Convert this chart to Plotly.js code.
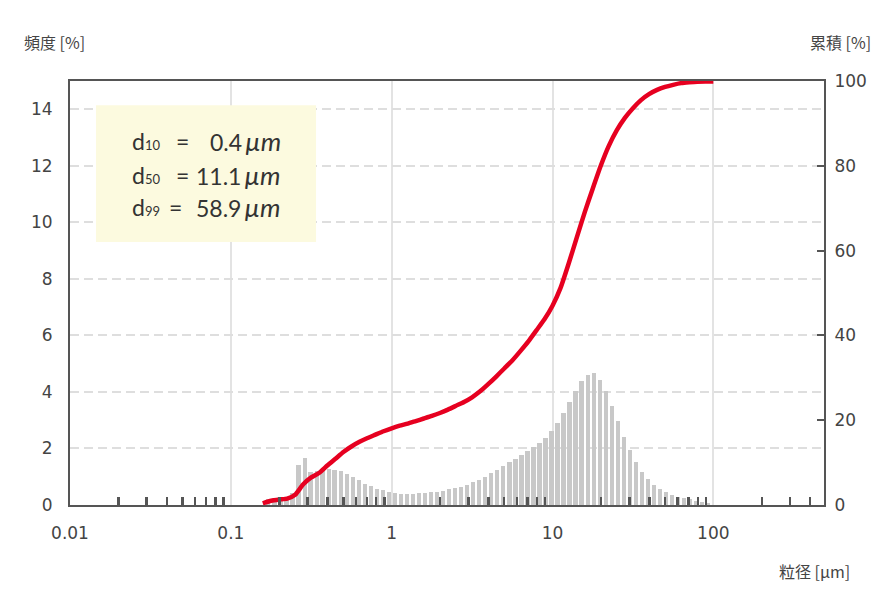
<!DOCTYPE html>
<html>
<head>
<meta charset="utf-8">
<script src="https://cdn.plot.ly/plotly-3.0.1.min.js"></script>
<style>
  html, body { margin: 0; padding: 0; background: #fff; }
  #plot { width: 896px; height: 613px; }
</style>
</head>
<body>
<div id="plot"></div>
<script>
// bin centres [µm] of the frequency histogram
const sizes = [
  0.171, 0.187, 0.204, 0.222, 0.242, 0.264, 0.288, 0.313, 0.342, 0.372,
  0.406, 0.442, 0.482, 0.526, 0.573, 0.625, 0.681, 0.742, 0.809, 0.882,
  0.962, 1.048, 1.143, 1.246, 1.358, 1.480, 1.613, 1.759, 1.917, 2.089,
  2.278, 2.483, 2.707, 2.950, 3.216, 3.505, 3.821, 4.165, 4.540, 4.949,
  5.395, 5.880, 6.411, 6.987, 7.617, 8.303, 9.051, 9.865, 10.75, 11.72,
  12.78, 13.93, 15.18, 16.55, 18.04, 19.67, 21.44, 23.37, 25.48, 27.77,
  30.27, 32.99, 35.97, 39.20, 42.74, 46.58, 50.78, 55.35, 60.34, 65.77,
  71.70, 78.15, 85.19, 92.86
];
// frequency [%]
const freq = [
  0.22, 0.25, 0.26, 0.25, 0.42, 1.40, 1.66, 1.15, 1.20, 1.25,
  1.26, 1.25, 1.19, 1.09, 1.00, 0.88, 0.76, 0.67, 0.58, 0.52,
  0.46, 0.43, 0.40, 0.40, 0.40, 0.42, 0.43, 0.45, 0.47, 0.51,
  0.55, 0.59, 0.65, 0.71, 0.81, 0.89, 1.00, 1.13, 1.25, 1.38,
  1.52, 1.64, 1.78, 1.90, 2.04, 2.18, 2.38, 2.61, 2.91, 3.25,
  3.63, 4.03, 4.37, 4.59, 4.66, 4.41, 4.03, 3.50, 2.97, 2.41,
  1.93, 1.51, 1.17, 0.93, 0.72, 0.57, 0.45, 0.36, 0.28, 0.25,
  0.20, 0.13, 0.10, 0.07
];
// cumulative curve [%]
const cumSize = [
  0.158, 0.178, 0.200, 0.224, 0.251, 0.282, 0.316, 0.355, 0.398, 0.447,
  0.501, 0.562, 0.631, 0.708, 0.794, 0.891, 1.000, 1.122, 1.259, 1.413,
  1.585, 1.778, 1.995, 2.239, 2.512, 2.818, 3.162, 3.548, 3.981, 4.467,
  5.012, 5.623, 6.310, 7.079, 7.943, 8.913, 10.00, 11.22, 12.59, 14.13,
  15.85, 17.78, 19.95, 22.39, 25.12, 28.18, 31.62, 35.48, 39.81, 44.67,
  50.12, 56.23, 63.10, 70.79, 79.43, 89.13, 100.0
];
const cumValue = [
  0.4, 1.0, 1.3, 1.5, 2.4, 4.9, 6.5, 7.6, 9.3, 10.9,
  12.5, 13.8, 14.9, 15.8, 16.6, 17.4, 18.1, 18.7, 19.2, 19.8,
  20.4, 21.0, 21.7, 22.5, 23.4, 24.3, 25.4, 26.8, 28.5, 30.3,
  32.2, 34.1, 36.3, 38.6, 41.2, 43.8, 47.0, 51.2, 56.9, 63.0,
  69.0, 74.6, 80.0, 84.7, 88.4, 91.3, 93.6, 95.5, 96.9, 97.9,
  98.6, 99.1, 99.5, 99.7, 99.85, 99.9, 99.9
];

const xTickVals = [0.01, 0.1, 1, 10, 100];
const xTickText = ['0.01', '0.1', '1', '10', '100'];
const xMinorVals = [
  0.02, 0.03, 0.04, 0.05, 0.06, 0.07, 0.08, 0.09,
  0.2, 0.3, 0.4, 0.5, 0.6, 0.7, 0.8, 0.9,
  2, 3, 4, 5, 6, 7, 8, 9,
  20, 30, 40, 50, 60, 70, 80, 90,
  200, 300, 400
];
const yTickVals = [0, 2, 4, 6, 8, 10, 12, 14];
const y2TickVals = [0, 20, 40, 60, 80, 100];

const stats = [
  { sub: '10', value: '0.4' },
  { sub: '50', value: '11.1' },
  { sub: '99', value: '58.9' }
];

const FONT = 'Lato, "Noto Sans CJK JP", sans-serif';
const TICKFONT = '"DejaVu Sans", Lato, sans-serif';
const CJK = '"Noto Sans CJK JP", Lato, sans-serif';

// bars on a log axis: width given in data units, proportional to the centre
const barWidths = sizes.map(s => s * 0.0615);

const traces = [
  {
    type: 'bar',
    x: sizes,
    y: freq,
    width: barWidths,
    marker: { color: '#c8c8c8', line: { width: 0 } },
    hoverinfo: 'skip'
  },
  {
    type: 'scatter',
    mode: 'lines',
    x: cumSize,
    y: cumValue,
    yaxis: 'y2',
    line: { color: '#e60020', width: 4.5, shape: 'spline', smoothing: 0.5 },
    hoverinfo: 'skip'
  }
];

const lineY = [0.858, 0.778, 0.702];
const eqX = [0.1492, 0.1492, 0.1399];
const annotations = [];
stats.forEach((s, i) => {
  annotations.push({
    xref: 'paper', yref: 'paper', x: 0.0796, y: lineY[i],
    xanchor: 'left', yanchor: 'middle', showarrow: false,
    text: "d<span style='font-size:13px'>" + s.sub + '</span>',
    font: { family: FONT, size: 23, color: '#333' }
  });
  annotations.push({
    xref: 'paper', yref: 'paper', x: eqX[i], y: lineY[i],
    xanchor: 'center', yanchor: 'middle', showarrow: false,
    text: '=',
    font: { family: FONT, size: 23, color: '#333' }
  });
  annotations.push({
    xref: 'paper', yref: 'paper', x: 0.2825, y: lineY[i],
    xanchor: 'right', yanchor: 'middle', showarrow: false,
    text: s.value + "\u2009<i><span style='font-size:26px'>µm</span></i>",
    font: { family: FONT, size: 23, color: '#333' }
  });
});
annotations.push(
  {
    xref: 'paper', yref: 'paper', x: -0.0637, y: 1.091,
    xanchor: 'left', yanchor: 'middle', showarrow: false,
    text: '頻度 [%]', font: { family: CJK, size: 16, color: '#444' }
  },
  {
    xref: 'paper', yref: 'paper', x: 1.065, y: 1.091,
    xanchor: 'right', yanchor: 'middle', showarrow: false,
    text: '累積 [%]', font: { family: CJK, size: 16, color: '#444' }
  },
  {
    xref: 'paper', yref: 'paper', x: 1.037, y: -0.156,
    xanchor: 'right', yanchor: 'middle', showarrow: false,
    text: '粒径 [µm]', font: { family: CJK, size: 16, color: '#444' }
  }
);

const layout = {
  width: 896,
  height: 613,
  margin: { l: 70, r: 72, t: 81, b: 108 },
  paper_bgcolor: '#fff',
  plot_bgcolor: '#fff',
  showlegend: false,
  bargap: 0,
  font: { family: FONT, size: 18, color: '#444' },
  xaxis: {
    type: 'log',
    range: [-2, 2.688],
    tickmode: 'array',
    tickvals: xTickVals,
    ticktext: xTickText,
    ticks: '',
    showgrid: true,
    gridcolor: '#e3e3e3',
    gridwidth: 2,
    showline: true,
    linecolor: '#555',
    linewidth: 2,
    mirror: true,
    zeroline: false,
    ticklabelstandoff: 12,
    tickfont: { family: TICKFONT, size: 17, color: '#444' },
    minor: {
      tickmode: 'array',
      tickvals: xMinorVals,
      ticks: 'inside',
      ticklen: 8,
      tickwidth: 2.5,
      tickcolor: '#555',
      showgrid: false
    }
  },
  yaxis: {
    range: [0, 15],
    tickmode: 'array',
    tickvals: yTickVals,
    ticks: '',
    showgrid: true,
    gridcolor: '#dedede',
    gridwidth: 2,
    griddash: '9px,5px',
    showline: true,
    linecolor: '#555',
    linewidth: 2,
    mirror: true,
    zeroline: false,
    ticklabelstandoff: 12,
    tickfont: { family: TICKFONT, size: 17, color: '#444' }
  },
  yaxis2: {
    overlaying: 'y',
    side: 'right',
    range: [0, 100],
    tickmode: 'array',
    tickvals: y2TickVals,
    ticks: 'inside',
    ticklen: 7,
    tickwidth: 2,
    tickcolor: '#555',
    showgrid: false,
    showline: true,
    linecolor: '#555',
    linewidth: 2,
    zeroline: false,
    ticklabelstandoff: 5,
    tickfont: { family: TICKFONT, size: 17, color: '#444' }
  },
  shapes: [
    {
      type: 'rect', xref: 'paper', yref: 'paper',
      x0: 0.0345, x1: 0.3263, y0: 0.620, y1: 0.9427,
      fillcolor: '#fcfadf', line: { width: 0 }, layer: 'above'
    }
  ],
  annotations: annotations
};

Plotly.newPlot('plot', traces, layout, { displayModeBar: false, staticPlot: true });
</script>
</body>
</html>
